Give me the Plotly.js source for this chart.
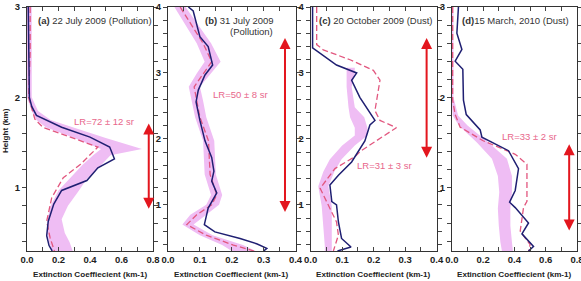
<!DOCTYPE html>
<html>
<head>
<meta charset="utf-8">
<script src="https://cdn.plot.ly/plotly-3.0.1.min.js"></script>
<style>
  html, body { margin: 0; padding: 0; background: #fff; }
  #chart { width: 581px; height: 281px; }
</style>
</head>
<body>
<div id="chart"></div>
<script>
// ---- (a) 22 July 2009 (Pollution) ----
const heightA_obs = [3.0, 2.5, 2.0, 1.9, 1.80, 1.67, 1.56, 1.45, 1.32, 1.22, 1.08, 0.97, 0.82, 0.63, 0.47, 0.36, 0.30];
const extA_obs    = [0.008, 0.01, 0.015, 0.03, 0.06, 0.22, 0.40, 0.525, 0.555, 0.45, 0.38, 0.22, 0.17, 0.135, 0.125, 0.14, 0.16];
const heightA_lr  = [3.0, 2.5, 2.0, 1.88, 1.76, 1.67, 1.45, 1.26, 1.11, 0.89, 0.63, 0.45, 0.30];
const extA_lr     = [0.02, 0.02, 0.01, 0.03, 0.05, 0.10, 0.45, 0.34, 0.23, 0.157, 0.125, 0.146, 0.174];
const heightA_rng = [3.0, 2.5, 2.0, 1.85, 1.75, 1.67, 1.55, 1.43, 1.36, 1.25, 1.1, 0.97, 0.8, 0.65, 0.5, 0.4, 0.30];
const extA_low    = [0.0, 0.0, 0.0, 0.03, 0.06, 0.12, 0.30, 0.47, 0.42, 0.35, 0.27, 0.20, 0.15, 0.13, 0.13, 0.14, 0.16];
const extA_high   = [0.03, 0.03, 0.03, 0.07, 0.15, 0.29, 0.50, 0.73, 0.53, 0.47, 0.38, 0.33, 0.26, 0.22, 0.24, 0.27, 0.29];

// ---- (b) 31 July 2009 (Pollution) ----
const heightB_obs = [4.0, 3.94, 3.55, 3.40, 3.12, 2.97, 2.74, 2.56, 2.28, 1.97, 1.72, 1.51, 1.36, 1.18, 0.95, 0.70, 0.59, 0.49, 0.41, 0.34, 0.30];
const extB_obs    = [0.064, 0.079, 0.10, 0.126, 0.14, 0.116, 0.095, 0.088, 0.10, 0.116, 0.137, 0.144, 0.137, 0.153, 0.126, 0.114, 0.147, 0.226, 0.278, 0.31, 0.30];
const heightB_lr  = [4.0, 3.76, 3.45, 3.17, 2.99, 2.79, 2.58, 2.33, 1.97, 1.46, 1.15, 1.0, 0.85, 0.70, 0.54, 0.39, 0.30];
const extB_lr     = [0.038, 0.069, 0.11, 0.137, 0.11, 0.082, 0.09, 0.10, 0.127, 0.132, 0.153, 0.137, 0.09, 0.059, 0.12, 0.205, 0.27];
const heightB_rng = [4.0, 3.76, 3.45, 3.17, 2.99, 2.79, 2.58, 2.33, 1.97, 1.46, 1.15, 1.0, 0.85, 0.70, 0.54, 0.39, 0.30];
const extB_low    = [0.02, 0.05, 0.09, 0.115, 0.09, 0.065, 0.075, 0.085, 0.11, 0.115, 0.135, 0.12, 0.07, 0.045, 0.10, 0.17, 0.20];
const extB_high   = [0.055, 0.09, 0.135, 0.165, 0.135, 0.10, 0.11, 0.12, 0.145, 0.15, 0.17, 0.16, 0.12, 0.08, 0.14, 0.235, 0.275];

// ---- (c) 20 October 2009 (Dust) ----
const heightC_obs = [4.0, 3.38, 3.12, 3.0, 2.89, 2.63, 2.28, 2.21, 1.97, 1.65, 1.45, 1.30, 1.05, 1.0, 0.74, 0.49, 0.36, 0.30];
const extC_obs    = [0.006, 0.006, 0.082, 0.146, 0.13, 0.156, 0.204, 0.188, 0.172, 0.13, 0.088, 0.061, 0.067, 0.082, 0.088, 0.098, 0.128, 0.085];
const heightC_lr  = [4.0, 3.43, 3.35, 3.20, 3.04, 2.89, 2.43, 2.28, 2.17, 2.07, 1.82, 1.73, 1.55, 1.25, 1.0, 0.74, 0.54, 0.36, 0.30];
const extC_lr     = [0.019, 0.019, 0.04, 0.125, 0.199, 0.22, 0.204, 0.22, 0.272, 0.241, 0.16, 0.14, 0.077, 0.03, 0.056, 0.082, 0.088, 0.077, 0.072];
const heightC_rng = [3.08, 2.99, 2.79, 2.48, 2.33, 2.17, 2.05, 1.9, 1.69, 1.50, 1.28, 0.98, 0.67, 0.36, 0.30];
const extC_low    = [0.114, 0.114, 0.114, 0.12, 0.125, 0.14, 0.14, 0.10, 0.061, 0.04, 0.024, 0.035, 0.04, 0.045, 0.045];
const extC_high   = [0.14, 0.14, 0.13, 0.14, 0.17, 0.18, 0.18, 0.14, 0.098, 0.075, 0.056, 0.067, 0.067, 0.067, 0.067];

// ---- (d) 15 March 2010 (Dust) ----
const heightD_obs = [3.0, 2.71, 2.53, 2.40, 2.31, 1.97, 1.81, 1.64, 1.56, 1.41, 1.21, 0.97, 0.84, 0.78, 0.61, 0.49, 0.35, 0.30];
const extD_obs    = [0.042, 0.032, 0.064, 0.021, 0.07, 0.074, 0.092, 0.181, 0.192, 0.362, 0.426, 0.405, 0.369, 0.405, 0.49, 0.448, 0.522, 0.49];
const heightD_lr  = [3.0, 1.97, 1.81, 1.67, 1.52, 1.37, 1.26, 0.85, 0.78, 0.52, 0.37, 0.30];
const extD_lr     = [0.005, 0.005, 0.021, 0.053, 0.2, 0.405, 0.48, 0.48, 0.458, 0.437, 0.50, 0.49];
const heightD_rng = [3.0, 2.0, 1.80, 1.69, 1.50, 1.32, 1.13, 0.95, 0.77, 0.58, 0.40, 0.30];
const extD_low    = [0.0, 0.0, 0.005, 0.045, 0.16, 0.256, 0.294, 0.303, 0.294, 0.30, 0.31, 0.32];
const extD_high   = [0.01, 0.01, 0.04, 0.10, 0.234, 0.352, 0.384, 0.384, 0.374, 0.374, 0.384, 0.39];

// Layer extent marked by the red double arrows (km) and the arrow column position
const layerTop  = [1.71, 3.53, 3.53, 1.48];
const layerBase = [0.75, 0.87, 1.69, 0.51];
const arrowExt  = [0.773, 0.367, 0.368, 0.75];

// Panel captions and lidar ratios
const panelTags  = ['(a)', '(b)', '(c)', '(d)'];
const panelDates = [' 22 July 2009 (Pollution)', ' 31 July 2009', ' 20 October 2009 (Dust)', '15 March, 2010 (Dust)'];
const lidarRatio = ['LR=72 \u00b1 12 sr', 'LR=50 \u00b1 8 sr', 'LR=31 \u00b1 3 sr', 'LR=33 \u00b1 2 sr'];

const FONT = 'Arial, "Liberation Sans", sans-serif';
const NAVY = '#1f1f72';
const PINK = '#e2577f';
const BAND = '#efbdf4';
const RED = '#e3161e';

const panels = [
  {obsH: heightA_obs, obsX: extA_obs, lrH: heightA_lr, lrX: extA_lr, rH: heightA_rng, lo: extA_low, hi: extA_high},
  {obsH: heightB_obs, obsX: extB_obs, lrH: heightB_lr, lrX: extB_lr, rH: heightB_rng, lo: extB_low, hi: extB_high},
  {obsH: heightC_obs, obsX: extC_obs, lrH: heightC_lr, lrX: extC_lr, rH: heightC_rng, lo: extC_low, hi: extC_high},
  {obsH: heightD_obs, obsX: extD_obs, lrH: heightD_lr, lrX: extD_lr, rH: heightD_rng, lo: extD_low, hi: extD_high}
];

const traces = [];
panels.forEach((p, i) => {
  const xa = i === 0 ? 'x' : 'x' + (i + 1);
  const ya = i === 0 ? 'y' : 'y' + (i + 1);
  // shaded range: high edge top-to-bottom, then low edge bottom-to-top
  traces.push({
    x: p.hi.concat(p.lo.slice().reverse()),
    y: p.rH.concat(p.rH.slice().reverse()),
    xaxis: xa, yaxis: ya, type: 'scatter', mode: 'lines',
    fill: 'toself', fillcolor: BAND, line: {width: 0, color: BAND},
    hoverinfo: 'skip'
  });
  traces.push({
    x: p.lrX, y: p.lrH, xaxis: xa, yaxis: ya, type: 'scatter', mode: 'lines',
    line: {color: PINK, width: 1.3, dash: '6px,3px'}
  });
  traces.push({
    x: p.obsX, y: p.obsH, xaxis: xa, yaxis: ya, type: 'scatter', mode: 'lines',
    line: {color: NAVY, width: 1.5}
  });
});

const domains = [[0, 0.2291], [0.2564, 0.4882], [0.5158, 0.7449], [0.7725, 1.0]];
const xMax = [0.8, 0.4, 0.4, 0.8];
const yRng = [[0.3, 3], [0.3, 4], [0.3, 4], [0.3, 3]];

const layout = {
  width: 581, height: 281,
  margin: {l: 27, r: 4, t: 7, b: 30},
  paper_bgcolor: '#fff', plot_bgcolor: '#fff',
  showlegend: false,
  font: {family: FONT, size: 9, color: '#222'},
  annotations: [], shapes: []
};

for (let i = 0; i < 4; i++) {
  const s = i === 0 ? '' : String(i + 1);
  const wide = xMax[i] > 0.5;
  layout['xaxis' + s] = {
    domain: domains[i], anchor: 'y' + s, range: [0, xMax[i] + 1e-6],
    dtick: wide ? 0.2 : 0.1, tick0: 0, tickformat: '.1f',
    ticks: 'inside', ticklen: 4, tickcolor: '#444',
    minor: {dtick: wide ? 0.1 : 0.05, ticks: 'inside', ticklen: 4, tickcolor: '#444'},
    showline: true, linecolor: '#333', linewidth: 1, mirror: 'allticks',
    showgrid: false, zeroline: false, fixedrange: true,
    ticklabeloverflow: 'allow',
    tickfont: {family: FONT, size: 9.5, weight: 'bold', color: '#222'}
  };
  layout['yaxis' + s] = {
    domain: [0, 1], anchor: 'x' + s, range: yRng[i],
    dtick: 1, tick0: 0,
    ticks: 'outside', ticklen: 4, tickcolor: '#444',
    minor: {dtick: 0.2, ticks: 'outside', ticklen: 4, tickcolor: '#444'},
    showline: true, linecolor: '#333', linewidth: 1, mirror: 'allticks',
    showgrid: false, zeroline: false, fixedrange: true,
    tickfont: {family: FONT, size: 9.5, weight: 'bold', color: '#222'}
  };
  const xr = i === 0 ? 'x' : 'x' + (i + 1);
  const yr = i === 0 ? 'y' : 'y' + (i + 1);

  // x-axis caption
  layout.annotations.push({
    xref: xr + ' domain', yref: 'paper', x: 0.5, y: -0.098,
    text: '<b>Extinction Coeffiecient (km-1)</b>', showarrow: false,
    xanchor: 'center', yanchor: 'middle',
    font: {family: FONT, size: 8.1, color: '#222'}
  });

  // red double arrow marking the aerosol layer
  layout.annotations.push({
    xref: xr, yref: yr, axref: xr, ayref: yr,
    x: arrowExt[i], y: layerTop[i], ax: arrowExt[i], ay: layerBase[i],
    text: '', showarrow: true, arrowside: 'end+start', arrowhead: 2,
    arrowsize: 1.1, arrowwidth: 2, arrowcolor: RED, standoff: 0, startstandoff: 0
  });
}

// panel captions
const tagPos = [[0.059, 2.856], [0.11, 3.80], [0.019, 3.80], [0.053, 2.856]];
for (let i = 0; i < 4; i++) {
  const xr = i === 0 ? 'x' : 'x' + (i + 1);
  const yr = i === 0 ? 'y' : 'y' + (i + 1);
  layout.annotations.push({
    xref: xr, yref: yr, x: tagPos[i][0], y: tagPos[i][1],
    text: '<b>' + panelTags[i] + '</b>' + panelDates[i], showarrow: false,
    xanchor: 'left', yanchor: 'middle',
    font: {family: FONT, size: 9.5, color: '#333'}
  });
}
layout.annotations.push({
  xref: 'x2', yref: 'y2', x: 0.336, y: 3.636, text: '(Pollution)', showarrow: false,
  xanchor: 'right', yanchor: 'middle', font: {family: FONT, size: 9.5, color: '#333'}
});

// lidar ratio labels
const lrPos = [[0.491, 1.728], [0.226, 2.666], [0.233, 1.604], [0.495, 1.562]];
for (let i = 0; i < 4; i++) {
  const xr = i === 0 ? 'x' : 'x' + (i + 1);
  const yr = i === 0 ? 'y' : 'y' + (i + 1);
  layout.annotations.push({
    xref: xr, yref: yr, x: lrPos[i][0], y: lrPos[i][1],
    text: lidarRatio[i], showarrow: false, xanchor: 'center', yanchor: 'middle',
    font: {family: FONT, size: 9.5, color: '#e8678b'}
  });
}

// shared height caption
layout.annotations.push({
  xref: 'paper', yref: 'paper', x: -0.038, y: 0.492,
  text: '<b>Height (km)</b>', showarrow: false, textangle: -90,
  xanchor: 'center', yanchor: 'middle',
  font: {family: FONT, size: 8.1, color: '#222'}
});

Plotly.newPlot('chart', traces, layout, {staticPlot: true, displayModeBar: false});
</script>
</body>
</html>
